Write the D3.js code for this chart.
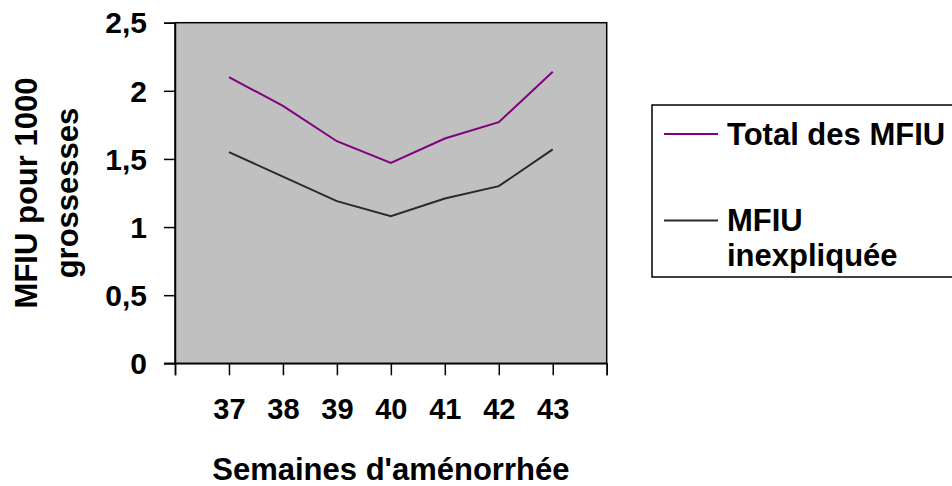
<!DOCTYPE html>
<html>
<head>
<meta charset="utf-8">
<script src="https://cdn.jsdelivr.net/npm/d3@7"></script>
<style>
  html, body { margin: 0; padding: 0; background: #fff; }
  svg { display: block; }
  text { font-family: "Liberation Sans", Arial, sans-serif; font-weight: bold; fill: #000; }
</style>
</head>
<body>
<svg id="chart" width="952" height="486"></svg>
<script>
// Data
const weeks = [37, 38, 39, 40, 41, 42, 43];
const totalMFIU = [2.10, 1.89, 1.63, 1.47, 1.65, 1.77, 2.14];
const unexplainedMFIU = [1.55, 1.37, 1.19, 1.08, 1.21, 1.30, 1.57];
const seriesNames = ["Total des MFIU", "MFIU inexpliquée"];
const yTicks = [0, 0.5, 1, 1.5, 2, 2.5];
const xTicks = [36, 37, 38, 39, 40, 41, 42, 43, 44];
const xTitle = "Semaines d'aménorrhée";
const yTitleLines = ["MFIU pour 1000", "grossesses"];

const svg = d3.select("#chart");
const L = 175, R = 606.7, T = 22.7, B = 363.3;

const x = d3.scaleLinear().domain([36, 44]).range([L, R]);
const y = d3.scaleLinear().domain([0, 2.5]).range([B, T]);

// plot background + frame
svg.append("rect").attr("x", L).attr("y", T).attr("width", R - L).attr("height", B - T)
  .attr("fill", "#c0c0c0").attr("stroke", "#000").attr("stroke-width", 1.5);

// y axis
const yAxis = svg.append("g").attr("transform", `translate(${L},0)`)
  .call(d3.axisLeft(y).tickValues(yTicks).tickSize(11).tickPadding(17)
    .tickFormat(d => d3.format("")(d).replace(".", ",")));
yAxis.select(".domain").attr("stroke-width", 1.5);
yAxis.selectAll(".tick line").attr("stroke-width", 1.5);
yAxis.selectAll(".tick text").style("font-size", "30px").attr("dy", "0.34em");

// x axis
const xAxis = svg.append("g").attr("transform", `translate(0,${B})`)
  .call(d3.axisBottom(x).tickValues(xTicks).tickSize(12).tickPadding(23)
    .tickFormat(d => (d >= 37 && d <= 43) ? String(d) : ""));
xAxis.select(".domain").attr("stroke-width", 1.5);
xAxis.selectAll(".tick line").attr("stroke-width", 1.5);
xAxis.selectAll(".tick text").style("font-size", "29px");
// extend baseline to the left to meet the 0 tick
svg.append("line").attr("x1", L - 11).attr("x2", L).attr("y1", B).attr("y2", B)
  .attr("stroke", "#000").attr("stroke-width", 1.5);

// lines
const line = d3.line().x((d, i) => x(weeks[i])).y(d => y(d));
svg.append("path").datum(totalMFIU).attr("d", line)
  .attr("fill", "none").attr("stroke", "#800080").attr("stroke-width", 2);
svg.append("path").datum(unexplainedMFIU).attr("d", line)
  .attr("fill", "none").attr("stroke", "#2a2a2a").attr("stroke-width", 2);

// axis titles
svg.append("text").attr("x", (L + R) / 2).attr("y", 480)
  .attr("text-anchor", "middle").style("font-size", "31px").text(xTitle);

const yt = svg.append("text").attr("transform", `translate(37,${(T + B) / 2}) rotate(-90)`)
  .attr("text-anchor", "middle").style("font-size", "31px");
yt.append("tspan").attr("x", 0).attr("y", 0).text(yTitleLines[0]);
yt.append("tspan").attr("x", 0).attr("y", 41).text(yTitleLines[1]);

// legend
svg.append("rect").attr("x", 652).attr("y", 105).attr("width", 320).attr("height", 172)
  .attr("fill", "#fff").attr("stroke", "#000").attr("stroke-width", 1.5);
const legColors = ["#800080", "#2a2a2a"];
const legY = [134, 220.5];
seriesNames.forEach((name, i) => {
  svg.append("line").attr("x1", 664).attr("x2", 718).attr("y1", legY[i]).attr("y2", legY[i])
    .attr("stroke", legColors[i]).attr("stroke-width", 2);
});
svg.append("text").attr("x", 727).attr("y", 145).style("font-size", "31px").text(seriesNames[0]);
const t2 = svg.append("text").style("font-size", "31px");
const parts = seriesNames[1].split(" ");
t2.append("tspan").attr("x", 727).attr("y", 231).text(parts[0]);
t2.append("tspan").attr("x", 727).attr("y", 266).text(parts[1]);
</script>
</body>
</html>
